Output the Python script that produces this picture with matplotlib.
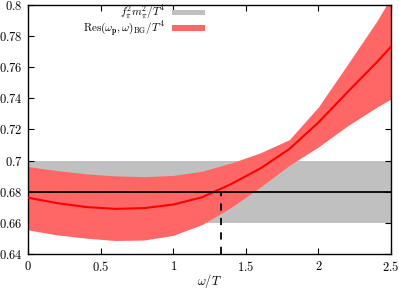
import matplotlib
matplotlib.use("Agg")
import matplotlib.pyplot as plt
from matplotlib.patches import Rectangle
from matplotlib.ticker import FuncFormatter

plt.rcParams['mathtext.fontset'] = 'cm'
plt.rcParams['font.family'] = ['DejaVu Serif']

omega = [0.0, 0.2, 0.4, 0.6, 0.8, 1.0, 1.2, 1.4, 1.6, 1.8, 2.0, 2.2, 2.4, 2.5]
res_center = [0.6762, 0.6727, 0.6702, 0.6690, 0.6695, 0.6718, 0.6765, 0.6850,
              0.6950, 0.7075, 0.7245, 0.7440, 0.7630, 0.7732]
res_upper = [0.6962, 0.6936, 0.6915, 0.6902, 0.6897, 0.6905, 0.6932, 0.6985,
             0.7050, 0.7135, 0.7345, 0.7617, 0.7893, 0.8048]
res_lower = [0.6555, 0.6523, 0.6502, 0.6487, 0.6490, 0.6520, 0.6590, 0.6700,
             0.6830, 0.6970, 0.7088, 0.7223, 0.7342, 0.7396]
fpi_center = 0.68
fpi_lo, fpi_hi = 0.66, 0.70
omega_cross = 1.33

xticks = [0, 0.5, 1, 1.5, 2, 2.5]
yticks = [0.64, 0.66, 0.68, 0.70, 0.72, 0.74, 0.76, 0.78, 0.80]
legend_labels = [r"$f_\pi^2 m_\pi^2/T^4$",
                 r"$\mathrm{Res}(\omega_{\mathbf{p}},\omega)_{\rm BG}/T^4$"]
gray = '#c0c0c0'
red_fill = '#ff6666'

fig = plt.figure(figsize=(3.99, 2.90), dpi=100)
ax = fig.add_axes([0.0702, 0.124, 0.9098, 0.859])

ax.axhspan(fpi_lo, fpi_hi, color=gray, lw=0, zorder=1)
ax.fill_between(omega, res_lower, res_upper, color=red_fill, lw=0, zorder=2)
ax.plot(omega, res_center, color='#ff0000', lw=1.5, zorder=3)
ax.axhline(fpi_center, color='black', lw=1.3, zorder=4)
ax.plot([omega_cross, omega_cross], [0.64, fpi_center], color='black', lw=1.3,
        ls=(0, (4, 4)), zorder=4)

ax.set_xlim(0, 2.5)
ax.set_ylim(0.64, 0.8)
ax.set_xticks(xticks)
ax.set_yticks(yticks)
fmt = FuncFormatter(lambda v, p: f"${v:g}$")
ax.xaxis.set_major_formatter(fmt)
ax.yaxis.set_major_formatter(fmt)
ax.tick_params(direction='in', top=True, right=True, length=4, width=0.8,
               labelsize=9, pad=4)
for s in ax.spines.values():
    s.set_linewidth(1.0)
ax.set_xlabel(r"$\omega/T$", fontsize=9, labelpad=-1)

# gnuplot-style legend: label on the left, sample on the right
for i, (lab, col) in enumerate(zip(legend_labels, [gray, red_fill])):
    yc = 0.970 - i * 0.062
    ax.text(0.378, yc - 0.014, lab, transform=ax.transAxes, ha='right',
            va='baseline', fontsize=8, zorder=6)
    ax.add_patch(Rectangle((0.397, yc - 0.011), 0.091, 0.022,
                           transform=ax.transAxes, color=col, lw=0, zorder=6))

fig.savefig("out.png", dpi=100)
